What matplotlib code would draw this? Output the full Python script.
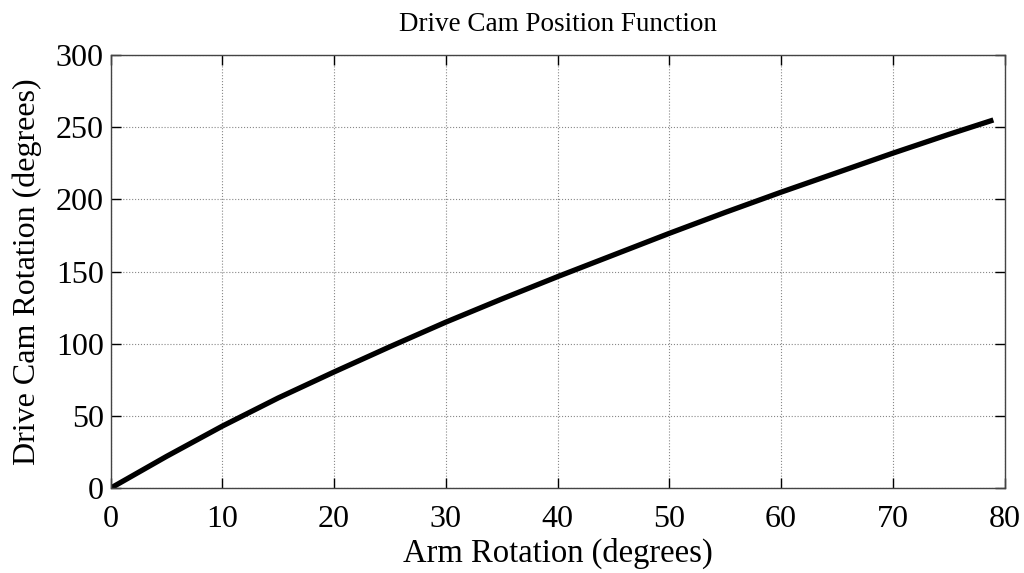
import matplotlib
matplotlib.use('Agg')
import matplotlib.pyplot as plt

# arm rotation (deg) vs drive cam rotation (deg)
arm_deg = [0, 5, 10, 15, 20, 25, 30, 35, 40, 45, 50, 55, 60, 65, 70, 75, 79]
cam_deg = [0, 22, 43, 62.5, 80.5, 98, 115, 131, 146.5, 161.5, 176.5, 191, 205, 218.5, 232, 245, 255]

plt.rcParams['font.family'] = 'Liberation Serif'

fig = plt.figure(figsize=(10.24, 5.73), dpi=100)
ax = fig.add_axes([0.108, 0.148, 0.873, 0.756])
ax.plot(arm_deg, cam_deg, color='black', linewidth=3.8, solid_capstyle='butt',
        solid_joinstyle='round')

ax.set_xlim(0, 80)
ax.set_ylim(0, 300)
ax.set_xticks(range(0, 81, 10))
ax.set_yticks(range(0, 301, 50))
ax.grid(True, linestyle=':', color='#888888', linewidth=0.8)
ax.tick_params(direction='in', top=True, right=True, length=7, width=1, labelsize=23, pad=5)
ax.tick_params(axis='x', pad=12)
for s in ax.spines.values():
    s.set_color('#444444')
    s.set_linewidth(1)

ax.set_xlabel('Arm Rotation (degrees)', fontsize=23.5, labelpad=3)
ax.set_ylabel('Drive Cam Rotation (degrees)', fontsize=23, labelpad=10)
ax.set_title('Drive Cam Position Function', fontsize=19.5, pad=17)

fig.savefig('out.png', dpi=100)
